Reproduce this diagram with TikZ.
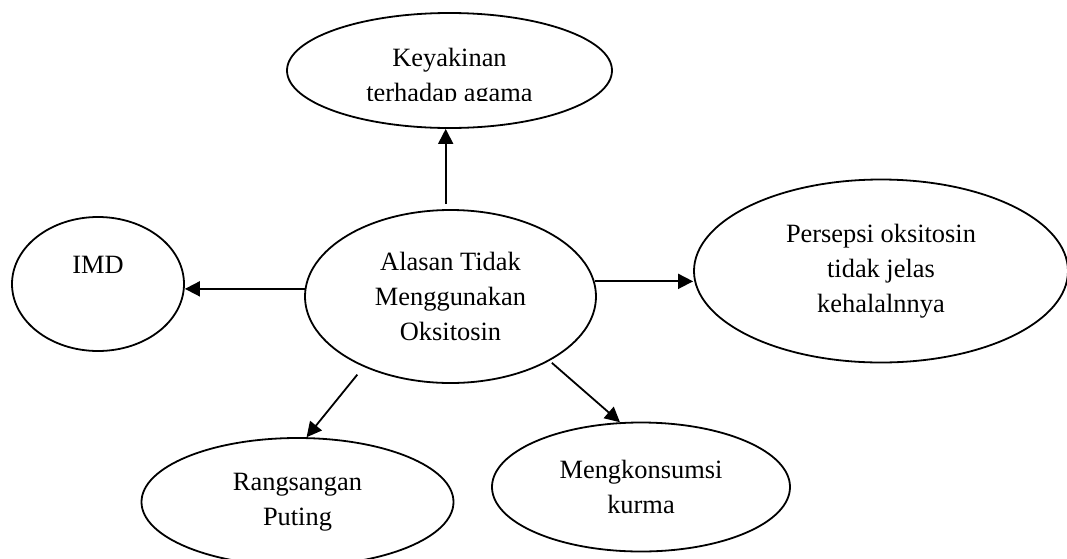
\documentclass[tikz,border=0pt]{standalone}
\usepackage{fontspec}
\setmainfont{Liberation Serif}
\usetikzlibrary{shapes.geometric,arrows.meta}
\begin{document}
\begin{tikzpicture}[x=0.5pt,y=-0.5pt,
  oval/.style={draw=black,line width=0.9pt,ellipse,inner sep=0pt,align=center,
    font=\fontsize{13.2}{17.5}\selectfont},
  txt/.style={inner sep=0pt,align=center,font=\fontsize{13.2}{17.5}\selectfont},
  arr/.style={line width=0.9pt,-{Triangle[length=7.5pt,width=7.5pt]}}]
\useasboundingbox (0,0) rectangle (1067,558);
\fill[white] (0,0) rectangle (1067,558);
% ellipses
\node[oval,minimum width=162.5pt,minimum height=57.5pt] (top) at (449.5,70.5) {};
\begin{scope}
  \clip (0,0) rectangle (1067,100.5);
  \node[txt] (toptext) at (449.5,77.5) {Keyakinan\\terhadap agama};
\end{scope}
\node[oval,minimum width=86pt,minimum height=67pt] (imd) at (98,284) {};
\node[txt] (imdtext) at (98,265) {IMD};
\node[oval,minimum width=145.5pt,minimum height=86.5pt] (c) at (450.5,296.5) {Alasan Tidak\\Menggunakan\\Oksitosin};
\node[oval,minimum width=187pt,minimum height=91.5pt] (per) at (881,271) {Persepsi oksitosin\\tidak jelas\\kehalalnnya};
\node[oval,minimum width=156pt,minimum height=64pt] (rang) at (297.5,502) {Rangsangan\\Puting};
\node[oval,minimum width=149pt,minimum height=64.5pt] (kurma) at (641,487) {Mengkonsumsi\\kurma};
% connectors
\draw[arr] ([xshift=-2.4pt,yshift=2.5pt]c.north) -- ([xshift=-2.4pt]c.north |- top.south);
\draw[arr] (c.177.7) -- (c.177.7 -| imd.east);
\draw[arr] (c.6.5) -- (c.6.5 -| per.west);
\draw[arr,shorten <=5pt] (c.219) -- (rang.82);
\draw[arr,shorten <=1.5pt] (c.327) -- (kurma.108);
\end{tikzpicture}
\end{document}
